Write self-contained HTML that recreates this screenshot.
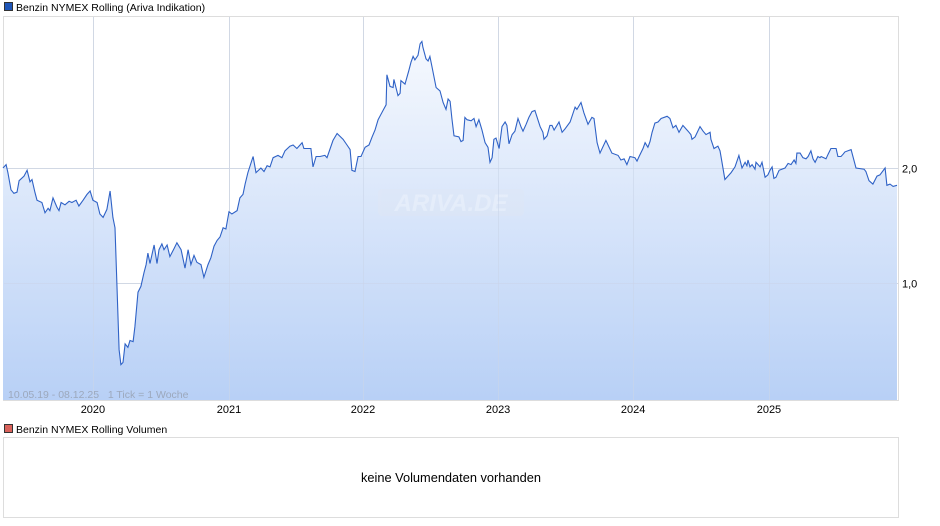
<!DOCTYPE html>
<html><head><meta charset="utf-8">
<style>
body{margin:0;background:#fff;font-family:"Liberation Sans",Arial,sans-serif;}
svg{display:block}
</style></head>
<body>
<svg id="chart" width="940" height="526" viewBox="0 0 940 526">
<defs>
<linearGradient id="fillg" x1="0" y1="0" x2="0" y2="1">
<stop offset="0" stop-color="#f6f9fe"/>
<stop offset="1" stop-color="#b8d0f6"/>
</linearGradient>
</defs>
<g>
<rect x="4.5" y="2.5" width="8" height="8" fill="#1f56b8" stroke="#333" stroke-width="1"/>
<text x="16" y="11" font-size="10.5" fill="#000">Benzin NYMEX Rolling (Ariva Indikation)</text>
</g>
<rect x="3.5" y="16.5" width="895" height="384" fill="#fff" stroke="#ddd"/>
<g id="grid"></g>
<path id="area" fill="url(#fillg)"/>
<g opacity="0.45">
<rect x="378" y="189" width="146" height="27" rx="4" fill="#dfe7f5"/>
<text x="451" y="211" font-size="24" font-weight="bold" font-style="italic" fill="#f3f6fb" text-anchor="middle">ARIVA.DE</text>
</g>
<g id="grid2"></g>
<path id="line" fill="none" stroke="#2f62c6" stroke-width="1.1"/>
<text x="8" y="398" font-size="10.5" fill="#9ca8bc" xml:space="preserve" style="white-space:pre">10.05.19 - 08.12.25   1 Tick = 1 Woche</text>
<g id="xlabels"></g>
<g id="ylabels"></g>
<g>
<rect x="4.5" y="424.5" width="8" height="8" fill="#d9625b" stroke="#333" stroke-width="1"/>
<text x="16" y="433" font-size="10.5" fill="#000">Benzin NYMEX Rolling Volumen</text>
</g>
<rect x="3.5" y="437.5" width="895" height="80" fill="#fff" stroke="#ddd"/>
<text x="451" y="482" font-size="12.8" fill="#000" text-anchor="middle">keine Volumendaten vorhanden</text>
</svg>
<script>
const weeks=[0,1.2,1.9,3.1,4.2,5.4,6.2,8.1,9.3,10.4,11.2,12.3,13.1,15.0,16.2,17.4,18.1,19.3,20.8,21.6,22.4,23.9,25.5,26.6,28.2,29.3,30.9,32.4,33.6,34.7,36.3,37.4,38.6,40.1,41.3,42.4,43.2,44.0,44.8,45.5,46.3,47.1,48.2,49.0,50.2,50.9,52.1,53.2,54.4,55.2,55.9,56.7,58.3,59.4,60.2,61.3,62.1,63.3,64.4,66.0,67.1,68.7,70.2,71.4,72.5,73.7,74.8,76.4,77.5,79.1,80.2,81.4,82.6,83.7,84.9,86.0,87.2,88.3,90.3,91.4,92.6,93.4,94.5,96.5,97.6,99.5,100.7,101.9,103.0,104.2,106.1,107.6,108.8,110.7,111.9,113.4,115.4,116.1,117.3,118.8,119.6,120.8,122.3,124.2,125.0,127.3,128.9,131.2,132.7,133.9,134.6,135.8,137.0,138.1,139.7,141.2,142.4,143.5,144.7,146.6,147.8,148.1,149.3,150.5,150.8,152.4,153.2,153.5,155.1,156.6,157.4,158.2,158.9,160.1,160.9,161.6,162.0,163.2,164.0,164.7,165.5,167.1,168.6,169.8,170.9,171.7,172.5,173.2,174.0,175.9,176.7,177.5,178.2,179.0,180.6,181.7,182.5,183.6,184.8,186.0,187.1,187.9,188.7,189.4,190.2,191.4,192.5,193.7,194.4,195.2,196.4,197.5,198.7,199.8,200.6,201.8,202.9,204.1,205.2,207.2,208.3,208.7,209.9,211.0,211.8,212.6,214.5,215.7,216.8,218.8,220.7,221.4,223.0,224.1,225.7,227.2,228.0,229.2,230.3,232.6,234.9,237.3,238.4,239.6,240.7,241.9,243.8,244.6,245.4,246.9,247.7,248.8,249.6,250.4,251.5,252.7,253.9,256.2,257.3,258.5,259.6,260.8,262.3,264.3,265.4,265.8,267.0,268.9,270.1,271.2,272.8,273.1,274.3,275.8,276.6,277.0,278.5,280.9,282.4,283.9,285.1,286.3,287.0,287.4,288.2,289.0,290.1,290.5,292.1,292.8,294.0,295.1,295.9,296.7,297.4,298.2,299.4,301.7,302.9,304.0,305.2,305.9,306.3,307.5,308.6,309.8,310.6,311.7,312.5,313.3,314.4,315.2,315.6,317.5,318.3,319.4,321.4,322.1,323.3,324.1,324.8,327.2,329.1,332.2,332.9,334.1,335.6,337.2,338.3,340.3,341.0,342.2,343.4,344.9];
const prices=[2.00,2.03,1.96,1.81,1.78,1.79,1.89,1.93,1.98,1.88,1.90,1.79,1.72,1.70,1.61,1.65,1.63,1.74,1.66,1.63,1.70,1.68,1.71,1.70,1.72,1.67,1.72,1.77,1.80,1.72,1.70,1.60,1.57,1.64,1.80,1.57,1.48,0.94,0.42,0.29,0.31,0.47,0.44,0.50,0.49,0.62,0.92,0.97,1.09,1.16,1.26,1.17,1.33,1.17,1.29,1.34,1.29,1.33,1.23,1.30,1.35,1.29,1.13,1.29,1.16,1.24,1.18,1.16,1.05,1.16,1.22,1.32,1.37,1.40,1.48,1.47,1.62,1.60,1.63,1.74,1.77,1.86,1.96,2.10,1.96,2.00,1.97,2.02,2.01,2.09,2.11,2.09,2.15,2.19,2.20,2.17,2.22,2.17,2.17,2.17,2.01,2.10,2.10,2.11,2.09,2.24,2.30,2.25,2.20,2.16,1.98,1.97,2.10,2.10,2.18,2.20,2.27,2.33,2.42,2.50,2.55,2.81,2.71,2.70,2.77,2.63,2.65,2.76,2.73,2.85,2.92,2.97,2.94,2.98,3.08,3.10,3.05,2.95,2.93,2.97,2.88,2.70,2.67,2.57,2.51,2.60,2.58,2.43,2.28,2.27,2.23,2.24,2.44,2.42,2.41,2.43,2.36,2.42,2.33,2.22,2.18,2.05,2.09,2.25,2.26,2.17,2.36,2.40,2.37,2.21,2.29,2.32,2.43,2.36,2.32,2.38,2.44,2.49,2.50,2.36,2.31,2.25,2.28,2.37,2.37,2.33,2.40,2.31,2.34,2.40,2.53,2.51,2.57,2.48,2.38,2.44,2.43,2.22,2.13,2.24,2.13,2.11,2.07,2.08,2.03,2.10,2.09,2.06,2.10,2.17,2.22,2.18,2.23,2.31,2.39,2.40,2.43,2.45,2.43,2.35,2.37,2.31,2.37,2.32,2.29,2.25,2.27,2.36,2.32,2.29,2.31,2.25,2.17,2.19,2.15,2.10,1.90,1.96,2.01,2.11,2.00,2.05,2.02,2.07,2.01,2.03,1.99,2.05,2.01,2.05,1.92,1.94,1.98,2.01,1.91,1.92,1.98,2.00,2.04,2.03,2.07,2.04,2.13,2.13,2.09,2.08,2.10,2.15,2.08,2.05,2.10,2.09,2.10,2.08,2.12,2.17,2.17,2.10,2.10,2.12,2.14,2.16,2.00,1.99,1.97,1.89,1.86,1.93,1.94,2.00,1.85,1.86,1.84,1.85];
const yearLabels=["2020","2021","2022","2023","2024","2025"];
const yearWeeks=[34.7,87.2,138.9,191.0,243.1,295.5];
const yTicks=[1.0,2.0];
const yTickLabels=["1,0","2,0"];

const X0=3,X1=897,Y0=398,YB=400;
const wMax=344.9;
function xs(w){return X0+(w/wMax)*(X1-X0);}
function ys(v){return Y0-v*115;}
const NS="http://www.w3.org/2000/svg";
let d="";
for(let i=0;i<weeks.length;i++){d+=(i?"L":"M")+xs(weeks[i]).toFixed(1)+","+ys(prices[i]).toFixed(1);}
document.getElementById("line").setAttribute("d",d);
document.getElementById("area").setAttribute("d",d+"L"+xs(weeks[weeks.length-1]).toFixed(1)+","+YB+"L"+xs(weeks[0]).toFixed(1)+","+YB+"Z");
const g=document.getElementById("grid"),g2=document.getElementById("grid2"),xl=document.getElementById("xlabels"),yl=document.getElementById("ylabels");
yearWeeks.forEach((w,i)=>{
  const x=Math.round(xs(w))+0.5;
  const ln=document.createElementNS(NS,"line");
  ln.setAttribute("x1",x);ln.setAttribute("x2",x);ln.setAttribute("y1",17);ln.setAttribute("y2",400);
  ln.setAttribute("stroke","#dcdcdc");
  
  
  g.appendChild(ln);
  const ln2=ln.cloneNode();ln2.setAttribute("stroke","#c9d6ea");ln2.setAttribute("stroke-opacity","0.6");
  
  g2.appendChild(ln2);
  const t=document.createElementNS(NS,"text");
  t.setAttribute("x",xs(w));t.setAttribute("y",413);t.setAttribute("font-size","11");t.setAttribute("text-anchor","middle");
  t.textContent=yearLabels[i];
  
  
  xl.appendChild(t);
});
yTicks.forEach((v,i)=>{
  const y=Math.round(ys(v))+0.5;
  const ln=document.createElementNS(NS,"line");
  ln.setAttribute("x1",4);ln.setAttribute("x2",898);ln.setAttribute("y1",y);ln.setAttribute("y2",y);
  ln.setAttribute("stroke","#dcdcdc");
  
  
  g.appendChild(ln);
  const ln2=ln.cloneNode();ln2.setAttribute("stroke","#c9d6ea");ln2.setAttribute("stroke-opacity","0.6");
  
  g2.appendChild(ln2);
  const t=document.createElementNS(NS,"text");
  t.setAttribute("x",902);t.setAttribute("y",y+4);t.setAttribute("font-size","11");
  t.textContent=yTickLabels[i];
  
  
  yl.appendChild(t);
});
</script>
</body></html>
